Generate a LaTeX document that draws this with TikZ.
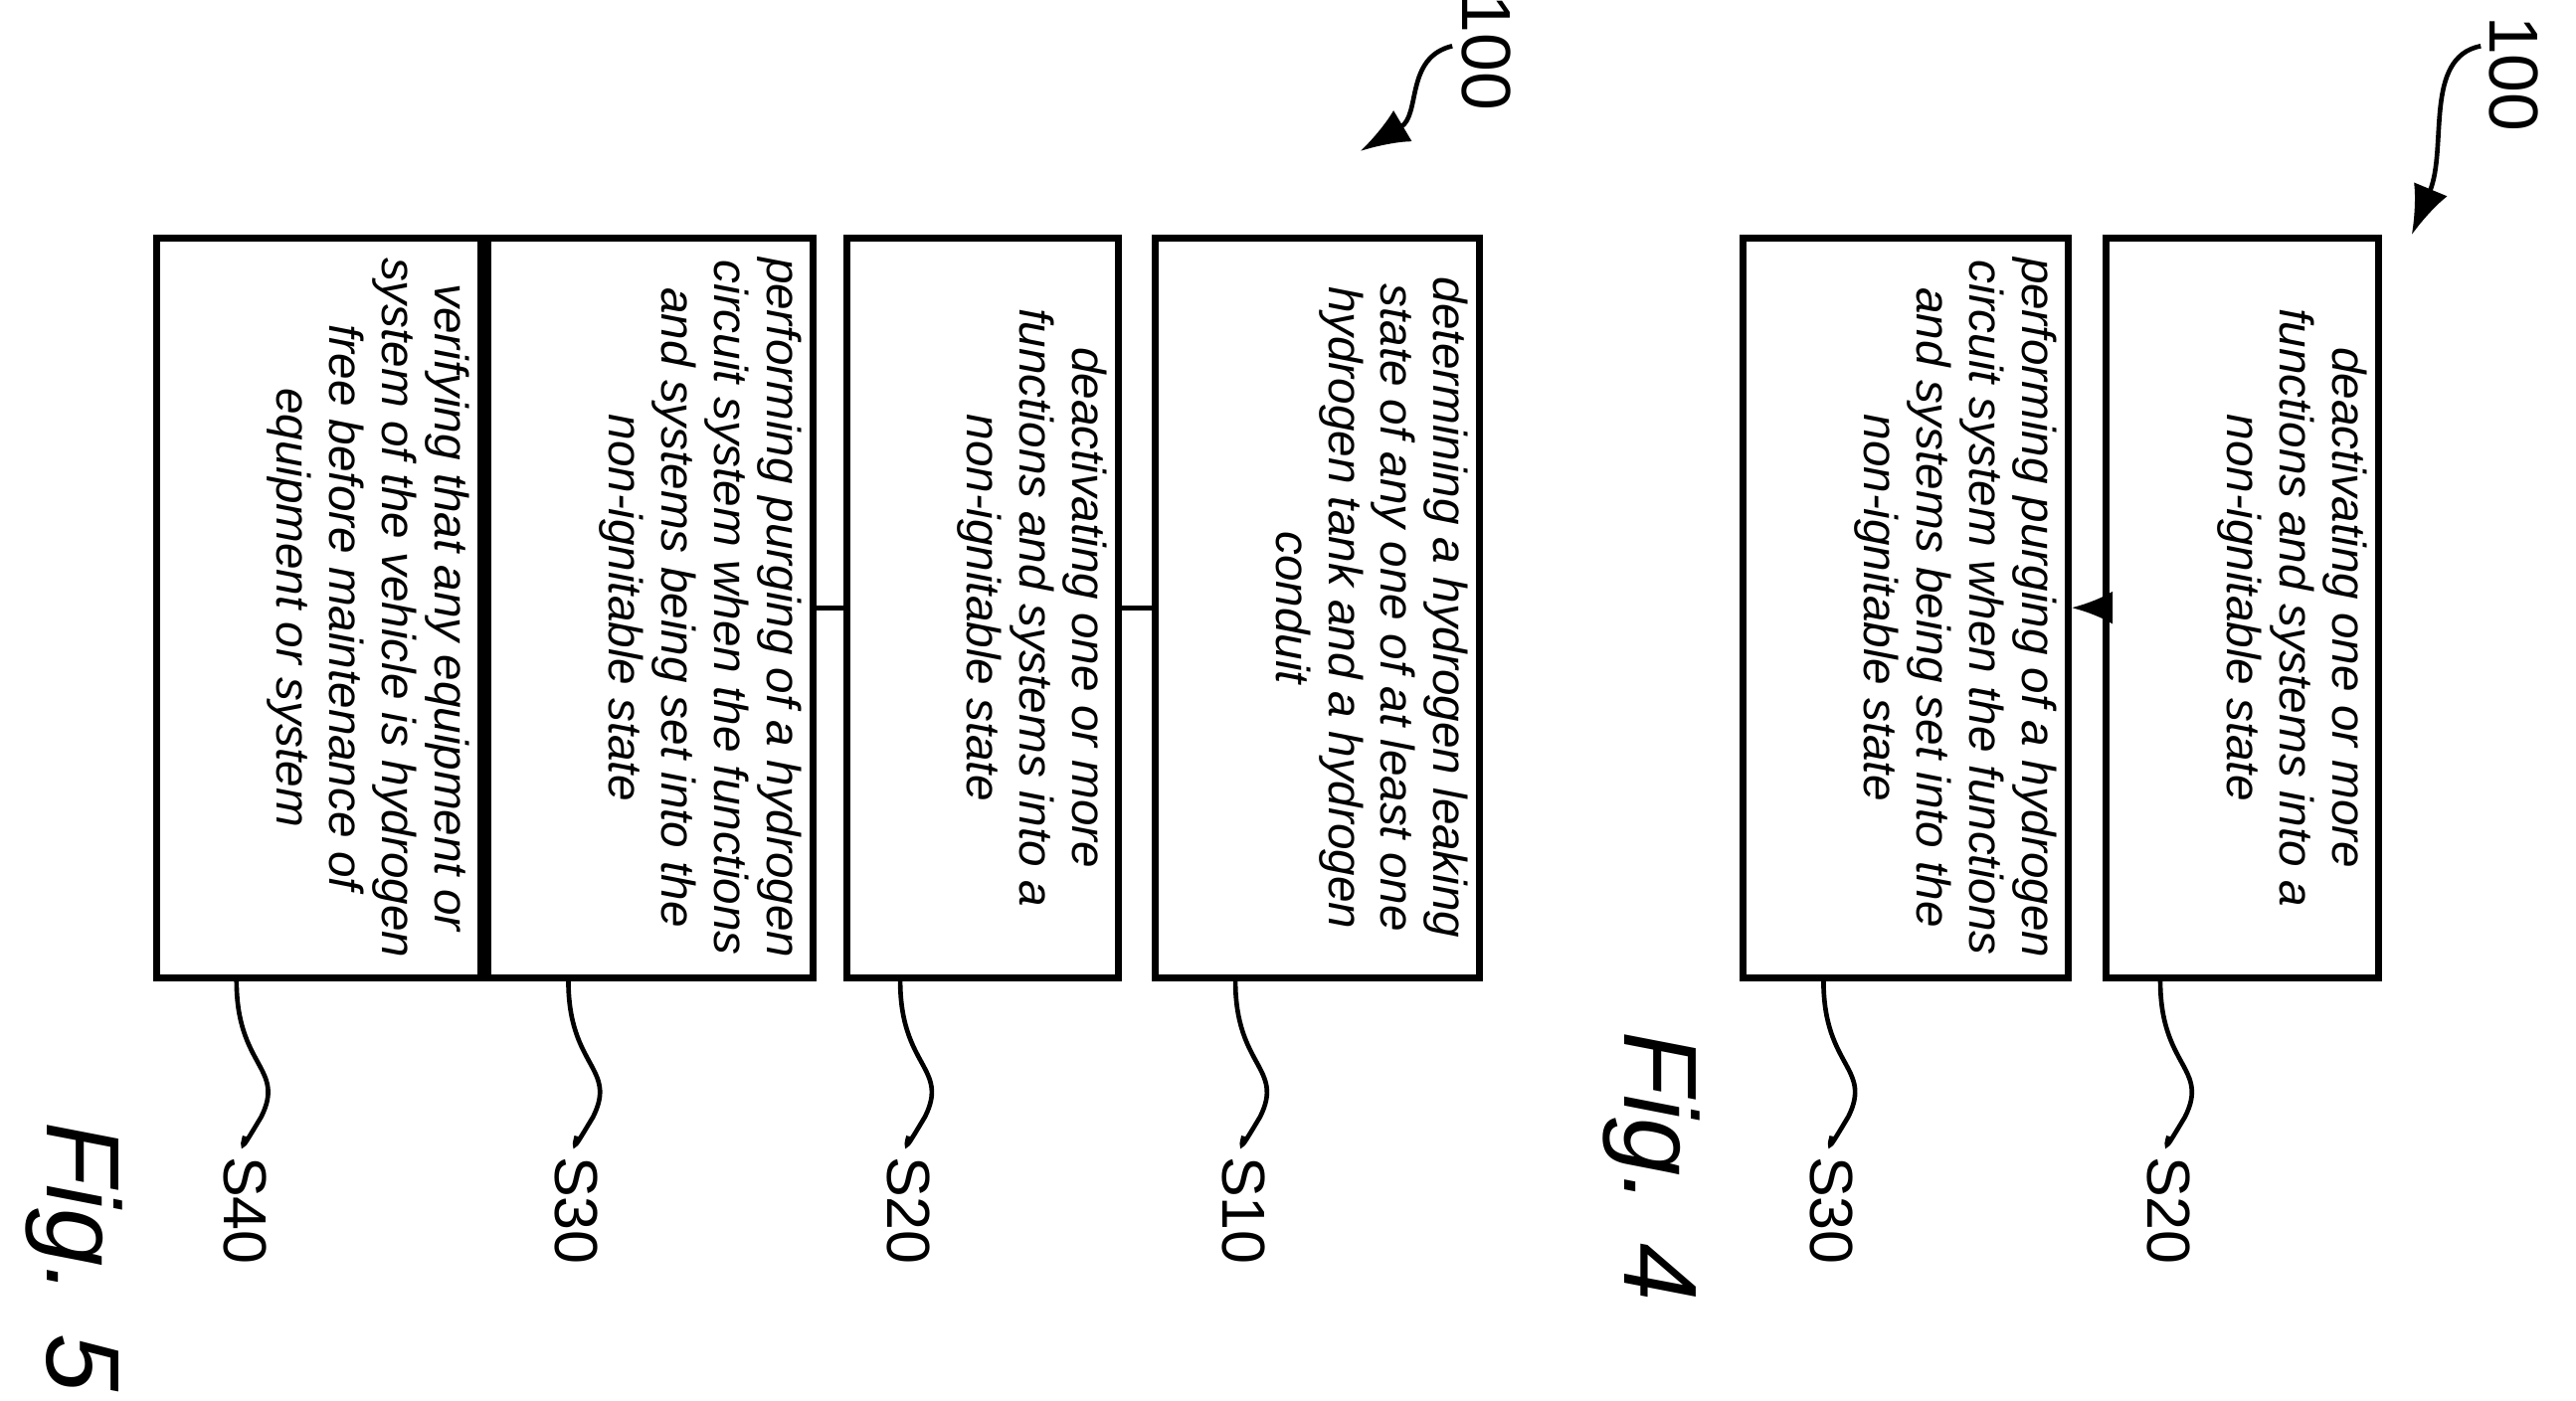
\documentclass[tikz,border=0pt]{standalone}
\usepackage{fontspec}
\setmainfont{Liberation Sans}
\usetikzlibrary{positioning,arrows.meta}
\tikzset{
  stepbox/.style={draw,line width=1.2pt,rotate=-90,minimum width=4.5cm,minimum height=1.5cm,
    align=center,font=\itshape\fontsize{8.2}{9.1}\selectfont,inner sep=2pt},
  lbl/.style={rotate=-90,font=\fontsize{10.5}{12}\selectfont},
  lead/.style={line width=0.8pt},
}
\begin{document}
\begin{tikzpicture}[x=0.01cm,y=-0.01cm]
	\useasboundingbox (0,0) rectangle (1568,853);
	% Fig. 4
	\node[stepbox] (a20) at (1365,370) {deactivating one or more\\functions and systems into a\\non-ignitable state\\[1.2em]~};
	\node[stepbox] (a30) at (1160,370) {performing purging of a hydrogen\\circuit system when the functions\\and systems being set into the\\non-ignitable state\\[1.2em]~};
	\draw[lead,-{Latex[length=2.5mm,width=2mm]}] (a20) -- (a30);
	\node[lbl] (la20) at (1320,737) {S20};
	\node[lbl] (la30) at (1115,737) {S30};
	\draw[lead] ([xshift=-0.5cm]a20.east) .. controls (1315,650) and (1345,650) .. (1330,680) .. controls (1318,700) .. (la20.west);
	\draw[lead] ([xshift=-0.5cm]a30.east) .. controls (1110,650) and (1140,650) .. (1125,680) .. controls (1113,700) .. (la30.west);
	\node[lbl,font=\fontsize{12}{14}\selectfont] (la100) at (1530,45) {100};
	\coordinate (tipa) at (1468,143);
	\draw[lead,-{Latex[length=3mm,width=2.2mm]}] (1510,28) .. controls (1475,35) and (1490,90) .. (tipa);
	\node[rotate=-90,font=\itshape\fontsize{18}{22}\selectfont] (fig4) at (1005,710) {Fig. 4};
	% Fig. 5
	\node[stepbox] (b10) at (802,370) {determining a hydrogen leaking\\state of any one of at least one\\hydrogen tank and a hydrogen\\conduit\\[1.2em]~};
	\node[stepbox] (b20) at (598,370) {deactivating one or more\\functions and systems into a\\non-ignitable state\\[1.2em]~};
	\node[stepbox] (b30) at (396,370) {performing purging of a hydrogen\\circuit system when the functions\\and systems being set into the\\non-ignitable state\\[1.2em]~};
	\node[stepbox] (b40) at (194,370) {verifying that any equipment or\\system of the vehicle is hydrogen\\free before maintenance of\\equipment or system\\[1.2em]~};
	\draw[lead] (b10) -- (b20);
	\draw[lead] (b20) -- (b30);
	\draw[lead] (b30) -- (b40);
	\foreach \n/\x/\t in {b10/802/S10,b20/598/S20,b30/396/S30,b40/194/S40}{
		\node[lbl] (l\n) at (\x-45,737) {\t};
		\draw[lead] ([xshift=-0.5cm]\n.east) .. controls (\x-50,650) and (\x-20,650) .. (\x-35,680) .. controls (\x-47,700) .. (l\n.west);
	}
	\node[lbl,font=\fontsize{12}{14}\selectfont] (lb100) at (905,32) {100};
	\coordinate (tipb) at (828,92);
	\draw[lead,-{Latex[length=3mm,width=2.2mm]}] (884,28) .. controls (855,35) and (865,70) .. (tipb);
	\node[rotate=-90,font=\itshape\fontsize{18}{22}\selectfont] (fig5) at (45,765) {Fig. 5};
\end{tikzpicture}
\end{document}
